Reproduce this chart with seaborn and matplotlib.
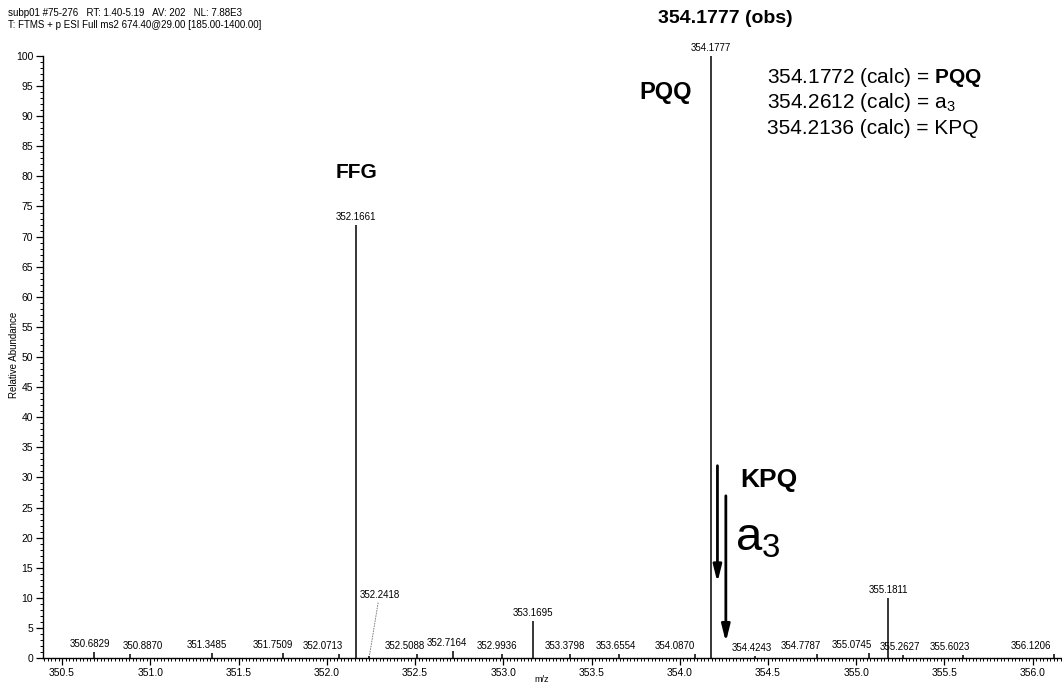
import matplotlib
matplotlib.use("Agg")
import matplotlib.pyplot as plt
import seaborn as sns
from matplotlib.ticker import MultipleLocator

# peak list
mz = [350.6829, 350.8870, 351.3485, 351.7509, 352.0713, 352.1661, 352.2418,
      352.5088, 352.7164, 352.9936, 353.1695, 353.3798, 353.6554, 354.0870,
      354.1777, 354.4243, 354.7787, 355.0745, 355.1811, 355.2627, 355.6023,
      356.1206]
intensity = [1.0, 0.6, 0.8, 0.8, 0.7, 72.0, 0.4,
             0.6, 1.2, 0.6, 6.1, 0.6, 0.6, 0.7,
             100.0, 0.3, 0.6, 0.9, 10.0, 0.5, 0.5,
             0.6]
calc_lines = ["354.1772 (calc) = $\\mathbf{PQQ}$",
              "354.2612 (calc) = a$_{3}$",
              "354.2136 (calc) = KPQ"]
kpq_calc = 354.2136
a3_calc = 354.2612

# horizontal nudges (pixels) for the small peak labels
label_dx = [-4, 12, -5, -10, -17, 0, 0, -12, -6, -5, 0, -5, -3, -20,
            0, -3, -16, -18, 0, -3, -13, -23]

sns.set_style("ticks")
plt.rcParams['font.family'] = ['Liberation Sans', 'DejaVu Sans']
plt.rcParams['mathtext.fontset'] = 'custom'
plt.rcParams['mathtext.rm'] = 'Liberation Sans'
plt.rcParams['mathtext.bf'] = 'Liberation Sans:bold'
plt.rcParams['mathtext.it'] = 'Liberation Sans'
for k in ['text.color', 'axes.labelcolor', 'xtick.color', 'ytick.color', 'axes.edgecolor']:
    plt.rcParams[k] = 'black'

fig = plt.figure(figsize=(10.62, 6.86), dpi=100)
ax = fig.add_axes([43 / 1062, 28 / 686, 1 - 43 / 1062, 602 / 686])

ax.vlines(mz, 0, intensity, color='black', linewidth=1.1)

ax.set_xlim(350.392, 356.166)
ax.set_ylim(0, 100)
sns.despine(ax=ax)
for s in ['left', 'bottom']:
    ax.spines[s].set_linewidth(1.0)

ax.xaxis.set_major_locator(MultipleLocator(0.5))
ax.xaxis.set_minor_locator(MultipleLocator(0.02))
ax.yaxis.set_major_locator(MultipleLocator(5))
ax.yaxis.set_minor_locator(MultipleLocator(1))
ax.tick_params(axis='both', which='major', labelsize=7.5, length=5, width=0.9, direction='out', pad=2)
ax.tick_params(axis='both', which='minor', length=2.5, width=0.7, direction='out')
ax.xaxis.set_major_formatter(matplotlib.ticker.FormatStrFormatter('%.1f'))

# peak labels
for m, h, dx in zip(mz, intensity, label_dx):
    if abs(m - 352.2418) < 1e-4:
        ax.annotate(f"{m:.4f}", xy=(m, h), xytext=(10, 56), textcoords='offset pixels',
                    fontsize=7, ha='center', va='bottom',
                    arrowprops=dict(arrowstyle='-', linestyle=':', color='gray', lw=0.7,
                                    shrinkA=0, shrinkB=0))
        continue
    ax.annotate(f"{m:.4f}", xy=(m, h), xytext=(dx, 3), textcoords='offset pixels',
                fontsize=7, ha='center', va='bottom', annotation_clip=False)

# fragment assignments
ax.text(354.07, 93.9, "PQQ", fontsize=17, fontweight='bold', ha='right', va='center')
ax.text(352.166, 80.7, "FFG", fontsize=15, fontweight='bold', ha='center', va='center')
ax.text(354.256, 106.3, "354.1777 (obs)", fontsize=14, fontweight='bold', ha='center', va='center')
for i, line in enumerate(calc_lines):
    ax.text(354.494, 96.5 - 4.25 * i, line, fontsize=15, ha='left', va='center')

ax.text(354.341, 29.6, "KPQ", fontsize=19, fontweight='bold', ha='left', va='center')
ax.text(354.313, 17.9, "a$_{3}$", fontsize=34, ha='left', va='baseline')

ax.annotate("", xy=(kpq_calc, 12.1), xytext=(kpq_calc, 32.4),
            arrowprops=dict(arrowstyle='-|>,head_width=0.25,head_length=1.0', color='black', lw=2))
ax.annotate("", xy=(a3_calc, 2.2), xytext=(a3_calc, 27.4),
            arrowprops=dict(arrowstyle='-|>,head_width=0.25,head_length=1.0', color='black', lw=2))

# header and axis titles
fig.text(8 / 1062, 1 - 13 / 686, "subp01 #75-276   RT: 1.40-5.19   AV: 202   NL: 7.88E3",
         fontsize=7, ha='left', va='center')
fig.text(8 / 1062, 1 - 25 / 686, "T: FTMS + p ESI Full ms2 674.40@29.00 [185.00-1400.00]",
         fontsize=7, ha='left', va='center')
fig.text(14 / 1062, 1 - 355 / 686, "Relative Abundance", fontsize=7, rotation=90,
         ha='center', va='center')
fig.text(542 / 1062, 1.5 / 686, "m/z", fontsize=6.5, ha='center', va='bottom')

fig.savefig("out.png", dpi=100)
